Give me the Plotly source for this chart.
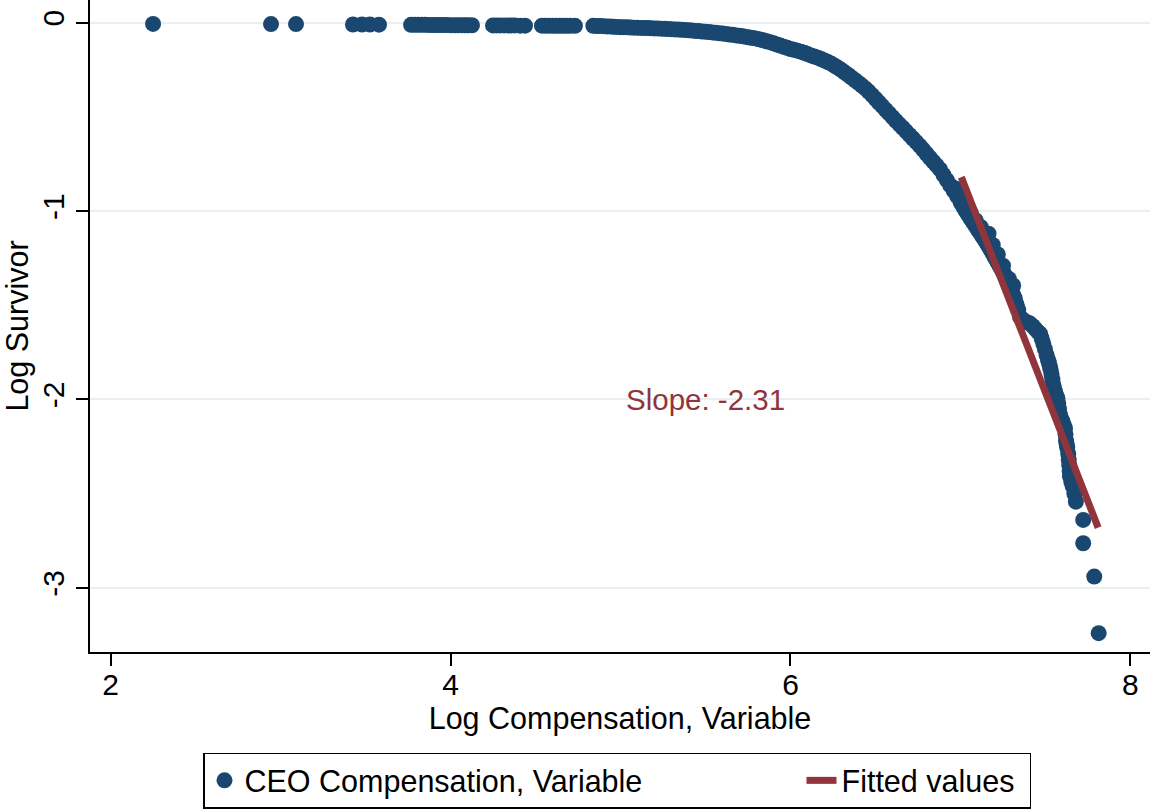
import plotly.graph_objects as go

# Scatter: log compensation (x) vs log survivor (y)
comp_x = [
    2.250, 2.944, 3.091, 3.426, 3.479, 3.526, 3.579,
    3.768, 3.789, 3.809, 3.830, 3.850, 3.874, 3.897, 3.918, 3.938, 3.959,
    3.979, 4.003, 4.026, 4.047, 4.068, 4.086, 4.103, 4.126,
    4.250, 4.270, 4.291, 4.315, 4.338, 4.359, 4.379, 4.409, 4.438,
    4.538, 4.558, 4.579, 4.600, 4.621, 4.642, 4.662, 4.683, 4.703, 4.732,
    4.84, 4.86, 4.88, 4.90, 4.92, 4.94, 4.96, 4.98, 5.00, 5.02, 5.04, 5.06,
    5.08, 5.10, 5.12, 5.14, 5.16, 5.18, 5.20, 5.22, 5.24, 5.26, 5.28, 5.30,
    5.32, 5.34, 5.36, 5.38, 5.40, 5.42, 5.44, 5.46, 5.48, 5.50, 5.52, 5.54,
    5.56, 5.58, 5.60, 5.62, 5.64, 5.66, 5.68, 5.70, 5.72, 5.74, 5.76, 5.78,
    5.80, 5.82, 5.84, 5.86, 5.88, 5.90, 5.92, 5.94, 5.96, 5.98, 6.00, 6.02,
    6.04, 6.06, 6.08, 6.10, 6.12, 6.14, 6.16, 6.18, 6.20, 6.22, 6.24, 6.26,
    6.28, 6.30, 6.32, 6.34, 6.36, 6.38, 6.40, 6.42, 6.44, 6.46, 6.48, 6.50,
    6.52, 6.54, 6.56, 6.58, 6.60, 6.62, 6.64, 6.66, 6.68, 6.70, 6.72, 6.74,
    6.76, 6.78, 6.80, 6.82, 6.84, 6.86, 6.88, 6.90, 6.92, 6.94, 6.96, 6.98,
    7.00, 7.01, 7.02, 7.03, 7.04, 7.05, 7.06, 7.07, 7.08, 7.09, 7.10, 7.11,
    7.12, 7.13, 7.14, 7.15, 7.16, 7.17, 7.18, 7.19, 7.20, 7.21, 7.22, 7.23,
    7.24, 7.25, 7.26, 7.27, 7.28, 7.29, 7.30, 7.31, 7.32, 7.33, 7.34, 7.350,
    7.365, 7.38, 7.395, 7.409, 7.425, 7.44, 7.455, 7.468, 7.478, 7.487,
    7.497, 7.507, 7.515, 7.520, 7.526, 7.531, 7.536, 7.541, 7.546, 7.551,
    7.556, 7.561, 7.566, 7.570, 7.575, 7.580, 7.585, 7.592, 7.600, 7.607,
    7.615, 7.618, 7.621, 7.625, 7.628, 7.634, 7.637, 7.640, 7.642, 7.644,
    7.652, 7.660, 7.670, 7.679, 7.722, 7.722, 7.787, 7.813,
    # extra observations that thicken the steep part of the band
    6.97, 7.00, 7.03, 7.06, 7.09, 7.12, 7.165, 7.19, 7.22, 7.25, 7.285, 7.31,
]
comp_y = [
    -0.007, -0.008, -0.008, -0.010, -0.010, -0.010, -0.011,
    -0.012, -0.012, -0.012, -0.012, -0.012, -0.013, -0.013, -0.013, -0.013, -0.013,
    -0.013, -0.014, -0.014, -0.014, -0.014, -0.014, -0.014, -0.014,
    -0.015, -0.015, -0.015, -0.015, -0.015, -0.015, -0.015, -0.016, -0.016,
    -0.016, -0.016, -0.016, -0.017, -0.017, -0.017, -0.017, -0.017, -0.017, -0.017,
    -0.017, -0.018, -0.018, -0.019, -0.020, -0.021, -0.022, -0.023, -0.024, -0.024, -0.025, -0.026,
    -0.027, -0.027, -0.028, -0.028, -0.029, -0.030, -0.031, -0.031, -0.032, -0.033, -0.034, -0.035,
    -0.036, -0.037, -0.038, -0.039, -0.041, -0.042, -0.044, -0.045, -0.047, -0.048, -0.050, -0.052,
    -0.054, -0.056, -0.058, -0.060, -0.063, -0.065, -0.068, -0.070, -0.073, -0.076, -0.079, -0.082,
    -0.085, -0.089, -0.094, -0.099, -0.104, -0.110, -0.116, -0.122, -0.128, -0.134, -0.140, -0.144,
    -0.149, -0.154, -0.160, -0.167, -0.174, -0.180, -0.186, -0.193, -0.201, -0.209, -0.218, -0.229,
    -0.240, -0.252, -0.265, -0.278, -0.292, -0.306, -0.320, -0.334, -0.349, -0.366, -0.385, -0.404,
    -0.424, -0.443, -0.463, -0.482, -0.502, -0.521, -0.540, -0.558, -0.577, -0.596, -0.615, -0.634,
    -0.653, -0.674, -0.696, -0.717, -0.738, -0.758, -0.779, -0.808, -0.836, -0.864, -0.892, -0.920,
    -0.951, -0.966, -0.982, -0.997, -1.012, -1.026, -1.040, -1.053, -1.067, -1.081, -1.095, -1.108,
    -1.122, -1.136, -1.150, -1.164, -1.178, -1.193, -1.209, -1.225, -1.242, -1.258, -1.274, -1.290,
    -1.307, -1.323, -1.339, -1.355, -1.372, -1.396, -1.420, -1.445, -1.464, -1.495, -1.525, -1.561,
    -1.575, -1.585, -1.592, -1.597, -1.610, -1.625, -1.640, -1.650, -1.676, -1.703,
    -1.733, -1.765, -1.790, -1.805, -1.826, -1.845, -1.870, -1.895, -1.923, -1.940,
    -1.958, -1.975, -1.990, -1.993, -2.020, -2.050, -2.081, -2.100, -2.115, -2.135,
    -2.152, -2.185, -2.219, -2.240, -2.255, -2.289, -2.320, -2.349, -2.380, -2.407,
    -2.435, -2.460, -2.500, -2.542, -2.639, -2.763, -2.940, -3.240,
    -0.880, -0.920, -0.966, -1.010, -1.050, -1.085, -1.120, -1.180, -1.230, -1.290, -1.360, -1.395,
]

# Fitted line (slope -2.31)
fit_x = [7.005, 7.810]
fit_y = [-0.820, -2.680]

x_ticks = [2, 4, 6, 8]
x_ticktext = ["2", "4", "6", "8"]
y_ticks = [0, -1, -2, -3]
y_ticktext = ["0", "-1", "-2", "-3"]

NAVY = "#1a476f"
MAROON = "#90353b"
FONT = "Liberation Sans, Arial, Helvetica, sans-serif"

fig = go.Figure()
fig.add_trace(go.Scatter(
    x=comp_x, y=comp_y, mode="markers",
    name="CEO Compensation, Variable",
    marker=dict(color=NAVY, size=16, line=dict(width=0)),
    legendwidth=552,
))
fig.add_trace(go.Scatter(
    x=fit_x, y=fit_y, mode="lines",
    name="Fitted values",
    line=dict(color=MAROON, width=7),
    legendwidth=183,
))

fig.add_annotation(
    x=5.5, y=-2.0, text="Slope: -2.31", showarrow=False,
    xanchor="center", yanchor="middle",
    font=dict(size=29.5, color=MAROON, family=FONT),
)

fig.update_layout(
    width=1150, height=809,
    margin=dict(l=90, r=0, t=0, b=154, pad=0),
    paper_bgcolor="white", plot_bgcolor="white",
    font=dict(family=FONT, size=30, color="black"),
    showlegend=True,
    legend=dict(
        orientation="h", x=(203 - 90) / 1060, xanchor="left",
        y=(655 - 756) / 655, yanchor="top",
        bordercolor="black", borderwidth=1.5, bgcolor="white",
        font=dict(size=30.5, family=FONT, color="black"),
    ),
    xaxis=dict(
        range=[1.879, 8.115], tickmode="array", tickvals=x_ticks, ticktext=x_ticktext,
        showgrid=False, zeroline=False, showline=True, linecolor="black", linewidth=1.5,
        ticks="outside", ticklen=12, tickwidth=1.5, tickcolor="black",
        ticklabelstandoff=-7, automargin=False,
        tickfont=dict(size=30),
        title=dict(text="Log Compensation, Variable", font=dict(size=30.5), standoff=2),
    ),
    yaxis=dict(
        range=[-3.340, 0.12], tickmode="array", tickvals=y_ticks, ticktext=y_ticktext,
        tickangle=-90, automargin=False,
        showgrid=True, gridcolor="#e8f0f1", gridwidth=1.5,
        zeroline=False, showline=True, linecolor="black", linewidth=1.5,
        ticks="outside", ticklen=12, tickwidth=1.5, tickcolor="black",
        tickfont=dict(size=30),
        title=dict(text="Log Survivor", font=dict(size=30.5), standoff=0),
    ),
)

fig.write_html(
    "out.html",
    config={"displayModeBar": False},
    post_script="document.body.style.margin='0';",
)
